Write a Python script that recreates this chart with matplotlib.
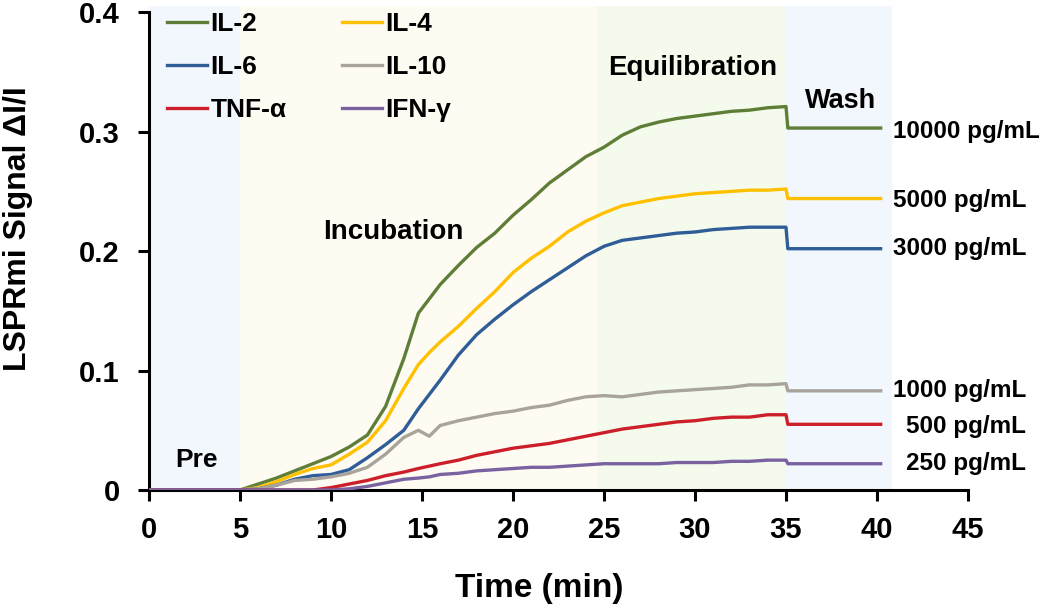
import matplotlib
matplotlib.use("Agg")
import matplotlib.pyplot as plt

plt.rcParams['font.family'] = ['Liberation Sans', 'DejaVu Sans']
plt.rcParams['font.weight'] = 'bold'

# ---- data ----
time_min = [0, 5, 6, 7, 8, 9, 10, 11, 12, 13, 14, 14.8, 15.4, 16, 17, 18, 19, 20, 21, 22,
            23, 24, 25, 26, 27, 28, 29, 30, 31, 32, 33, 34, 35, 35.1, 36, 37, 38, 39, 40.2]

il2 = [0, 0, 0.005, 0.010, 0.016, 0.022, 0.028, 0.036, 0.046, 0.070, 0.110, 0.148, 0.160, 0.172,
       0.188, 0.203, 0.215, 0.230, 0.243, 0.257, 0.268, 0.279, 0.287, 0.297, 0.304, 0.308, 0.311,
       0.313, 0.315, 0.317, 0.318, 0.320, 0.321, 0.303, 0.303, 0.303, 0.303, 0.303, 0.303]
il4 = [0, 0, 0.002, 0.007, 0.013, 0.018, 0.021, 0.030, 0.040, 0.058, 0.085, 0.105, 0.115, 0.124,
       0.137, 0.152, 0.166, 0.182, 0.194, 0.204, 0.216, 0.225, 0.232, 0.238, 0.241, 0.244, 0.246,
       0.248, 0.249, 0.250, 0.251, 0.251, 0.252, 0.244, 0.244, 0.244, 0.244, 0.244, 0.244]
il6 = [0, 0, 0.001, 0.004, 0.009, 0.012, 0.013, 0.017, 0.027, 0.038, 0.050, 0.068, 0.080, 0.092,
       0.113, 0.130, 0.143, 0.155, 0.166, 0.176, 0.186, 0.196, 0.204, 0.209, 0.211, 0.213, 0.215,
       0.216, 0.218, 0.219, 0.220, 0.220, 0.220, 0.202, 0.202, 0.202, 0.202, 0.202, 0.202]
il10 = [0, 0, 0.001, 0.004, 0.008, 0.009, 0.011, 0.014, 0.019, 0.030, 0.044, 0.050, 0.045, 0.054,
        0.058, 0.061, 0.064, 0.066, 0.069, 0.071, 0.075, 0.078, 0.079, 0.078, 0.080, 0.082, 0.083,
        0.084, 0.085, 0.086, 0.088, 0.088, 0.089, 0.083, 0.083, 0.083, 0.083, 0.083, 0.083]
tnf = [0, 0, 0, 0, 0, 0, 0.002, 0.005, 0.008, 0.012, 0.015, 0.018, 0.020, 0.022,
       0.025, 0.029, 0.032, 0.035, 0.037, 0.039, 0.042, 0.045, 0.048, 0.051, 0.053, 0.055, 0.057,
       0.058, 0.060, 0.061, 0.061, 0.063, 0.063, 0.055, 0.055, 0.055, 0.055, 0.055, 0.055]
ifn = [0, 0, 0, 0, 0, 0, 0, 0.001, 0.003, 0.006, 0.009, 0.010, 0.011, 0.013,
       0.014, 0.016, 0.017, 0.018, 0.019, 0.019, 0.020, 0.021, 0.022, 0.022, 0.022, 0.022, 0.023,
       0.023, 0.023, 0.024, 0.024, 0.025, 0.025, 0.022, 0.022, 0.022, 0.022, 0.022, 0.022]

series_names = ['IL-2', 'IL-4', 'IL-6', 'IL-10', 'TNF-α', 'IFN-γ']
series_values = [il2, il4, il6, il10, tnf, ifn]
series_colors = ['#5e7e38', '#ffc000', '#2f5d98', '#a8a49c', '#cc1f2a', '#7a62a0']

phase_names = ['Pre', 'Incubation', 'Equilibration', 'Wash']
phase_bounds = [(0, 5), (5, 24.6), (24.6, 35), (35, 40.8)]
phase_colors = ['#f2f6fd', '#fefbf3', '#f5fbec', '#f2f6fd']
phase_label_pos = [(2.6, 0.025), (13.4, 0.216), (29.9, 0.353), (38.0, 0.326)]
phase_label_size = [19, 20, 20, 19.5]

conc_labels = ['10000 pg/mL', '5000 pg/mL', '3000 pg/mL', '1000 pg/mL', '500 pg/mL', '250 pg/mL']
conc_pos = [(40.9, 0.300), (40.9, 0.242), (40.9, 0.202), (40.9, 0.083), (41.6, 0.053), (41.6, 0.022)]

# ---- figure ----
fig = plt.figure(figsize=(10.5, 6.09), dpi=100)
ax = fig.add_axes([0.1419, 0.1954, 0.78, 0.7944])

for (x0, x1), c in zip(phase_bounds, phase_colors):
    ax.axvspan(x0, x1, ymin=0, ymax=1, color=c, lw=0, zorder=0)

for name, vals, col in zip(series_names, series_values, series_colors):
    ax.plot(time_min, vals, color=col, lw=2.4, label=name, zorder=3)

for name, (x, y), fs in zip(phase_names, phase_label_pos, phase_label_size):
    ax.text(x, y, name, ha='center', va='center', fontsize=fs, fontweight='bold', zorder=4)

for lab, (x, y) in zip(conc_labels, conc_pos):
    ax.text(x, y, lab, ha='left', va='center', fontsize=17.5, fontweight='bold',
            clip_on=False, zorder=4)

ax.set_xlim(0, 45)
ax.set_ylim(0, 0.405)
ax.set_xticks(range(0, 46, 5))
ax.set_yticks([0, 0.1, 0.2, 0.3, 0.4])
ax.set_yticklabels(['0', '0.1', '0.2', '0.3', '0.4'])
ax.spines['left'].set_bounds(0, 0.4)
for s in ['top', 'right']:
    ax.spines[s].set_visible(False)
for s in ['left', 'bottom']:
    ax.spines[s].set_linewidth(2.2)
ax.tick_params(axis='both', direction='out', length=8, width=2.2, labelsize=21)
ax.tick_params(axis='y', pad=13)
ax.tick_params(axis='x', pad=11)
for lbl in ax.get_xticklabels() + ax.get_yticklabels():
    lbl.set_fontweight('bold')

ax.set_xlabel('Time (min)', fontsize=24, fontweight='bold')
ax.set_ylabel('LSPRmi Signal ΔI/I', fontsize=23, fontweight='bold')
ax.xaxis.set_label_coords(0.477, -0.171)
ax.yaxis.set_label_coords(-0.142, 0.54)

handles, labels = ax.get_legend_handles_labels()
order = [0, 2, 4, 1, 3, 5]
leg = ax.legend([handles[i] for i in order], [labels[i] for i in order], ncol=2,
                loc='upper left', bbox_to_anchor=(0.022, 0.988), frameon=False,
                fontsize=19, handlelength=1.5, handletextpad=0.15,
                columnspacing=2.1, labelspacing=0.72, borderaxespad=0, borderpad=0)
for t in leg.get_texts():
    t.set_fontweight('bold')

fig.savefig('out.png', dpi=100)
